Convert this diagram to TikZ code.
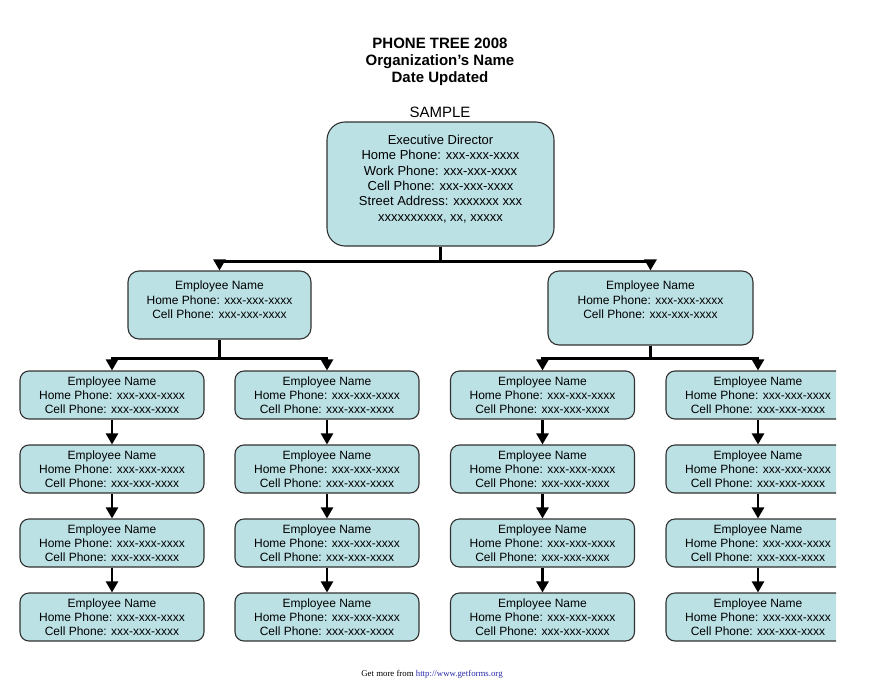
\documentclass[tikz,border=0pt]{standalone}
\usepackage{fontspec}
\setmainfont{Liberation Sans}
\newfontfamily\footfont{Liberation Serif}
\usetikzlibrary{arrows.meta}
\definecolor{boxfill}{RGB}{188,225,229}
\definecolor{boxline}{RGB}{50,50,50}
\definecolor{urlblue}{RGB}{40,40,170}
\tikzset{
  ebox/.style={draw=boxline, line width=1.1pt, fill=boxfill, align=center, inner sep=0pt},
  execbox/.style={ebox, rounded corners=18pt, minimum width=227pt, minimum height=124pt},
  midbox/.style={ebox, rounded corners=11pt},
  smallbox/.style={ebox, rounded corners=9pt, minimum width=184pt, minimum height=48pt,
    font=\fontsize{12}{14}\selectfont},
  boxtext/.style={align=center, inner sep=0pt},
  conn/.style={line width=2.4pt, -{Triangle[width=12pt,length=11pt]}}
}
\newcommand{\emptext}{Employee Name\\Home Phone: xxx-xxx-xxxx\\Cell Phone: xxx-xxx-xxxx}
\begin{document}
\begin{tikzpicture}[x=1pt,y=-1pt]
\useasboundingbox (0,0) rectangle (880,680);
% titles
\node[align=center, font=\fontsize{15}{17}\selectfont\bfseries] (title) at (440,62)
  {PHONE TREE 2008\\Organization’s Name\\Date Updated};
\node[font=\fontsize{15}{17}\selectfont] (sample) at (440,112) {SAMPLE};
% executive
\node[execbox] (exec) at (440.5,184) {};
\node[boxtext, font=\fontsize{13}{15.3}\selectfont] (exectext) at (440.5,179)
  {Executive Director\\Home Phone: xxx-xxx-xxxx\\Work Phone: xxx-xxx-xxxx\\Cell Phone: xxx-xxx-xxxx\\Street Address: xxxxxxx xxx\\xxxxxxxxxx, xx, xxxxx};
% level 2
\node[midbox, minimum width=183pt, minimum height=68pt] (l) at (219.5,305) {};
\node[boxtext, font=\fontsize{12}{14.5}\selectfont] (ltext) at (219.5,300) {\emptext};
\node[midbox, minimum width=205pt, minimum height=74pt] (r) at (650.5,308) {};
\node[boxtext, font=\fontsize{12}{14.5}\selectfont] (rtext) at (650.5,300) {\emptext};
% level 3
\foreach \c/\x in {a/112,b/327,c/542.5}{
  \foreach \i/\y in {1/395,2/469,3/543,4/617}{
    \node[smallbox] (\c\i) at (\x,\y) {\emptext};
  }
}
\begin{scope}
\clip (0,0) rectangle (836,680);
\foreach \i/\y in {1/395,2/469,3/543,4/617}{
  \node[smallbox] (d\i) at (758,\y) {\emptext};
}
\end{scope}
% connectors
\draw[conn] (exec.south) -- ++(0,15) -| (l.north);
\draw[conn] (exec.south) -- ++(0,15) -| (r.north);
\draw[conn] (l.south) -- ++(0,19) -| (a1.north);
\draw[conn] (l.south) -- ++(0,19) -| (b1.north);
\draw[conn] (r.south) -- ++(0,13) -| (c1.north);
\draw[conn] (r.south) -- ++(0,13) -| (d1.north);
\foreach \c in {a,b,c,d}{
  \draw[conn] (\c1.south) -- (\c2.north);
  \draw[conn] (\c2.south) -- (\c3.north);
  \draw[conn] (\c3.south) -- (\c4.north);
}
% footer
\node[font=\footfont\fontsize{8.8}{10}\selectfont] (foot) at (432,674) {Get more from \textcolor{urlblue}{http://www.getforms.org}};
\end{tikzpicture}
\end{document}
